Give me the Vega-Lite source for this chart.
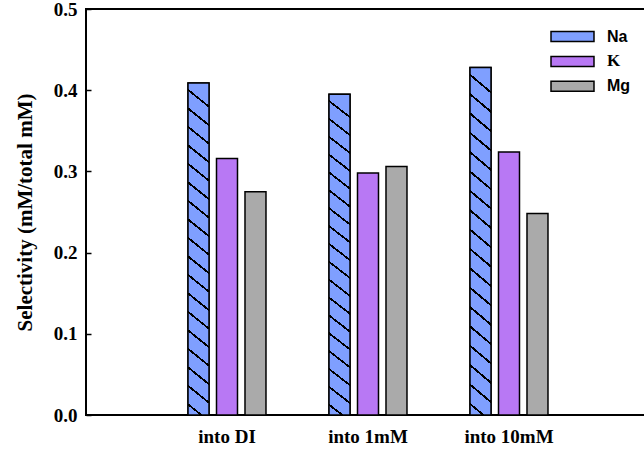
{
  "$schema": "https://vega.github.io/schema/vega-lite/v6.json",
  "autosize": {"type": "none"},
  "padding": {"left": 86, "top": 9, "right": 0, "bottom": 37},
  "width": 564,
  "height": 406,
  "background": "white",
  "config": {
    "view": {"stroke": "black", "strokeWidth": 2},
    "axis": {"grid": false, "domain": false, "labelFont": "Liberation Serif", "labelFontWeight": "bold", "labelColor": "black", "titleFont": "Liberation Serif", "titleFontWeight": "bold", "titleColor": "black"}
  },
  "data": {
    "values": [
      {"group": "into DI", "ion": "Na", "value": 0.409},
      {"group": "into DI", "ion": "K", "value": 0.316},
      {"group": "into DI", "ion": "Mg", "value": 0.275},
      {"group": "into 1mM", "ion": "Na", "value": 0.395},
      {"group": "into 1mM", "ion": "K", "value": 0.298},
      {"group": "into 1mM", "ion": "Mg", "value": 0.306},
      {"group": "into 10mM", "ion": "Na", "value": 0.428},
      {"group": "into 10mM", "ion": "K", "value": 0.324},
      {"group": "into 10mM", "ion": "Mg", "value": 0.248}
    ]
  },
  "encoding": {
    "x": {
      "field": "group", "type": "nominal",
      "sort": ["into DI", "into 1mM", "into 10mM"],
      "scale": {"paddingInner": 0.447, "paddingOuter": 0.7235},
      "axis": {"title": null, "labelAngle": 0, "ticks": false, "labelPadding": 12, "labelFontSize": 19, "labelBaseline": "top"}
    },
    "xOffset": {
      "field": "ion", "type": "nominal",
      "scale": {"domain": ["Na", "K", "Mg"], "paddingInner": 0.263, "paddingOuter": 0}
    },
    "y": {
      "field": "value", "type": "quantitative",
      "scale": {"domain": [0, 0.5], "nice": false},
      "axis": {"title": "Selectivity (mM/total mM)", "values": [0, 0.1, 0.2, 0.3, 0.4, 0.5], "format": ".1f", "tickSize": -5, "tickWidth": 1.5, "tickColor": "black", "labelPadding": 14, "labelFontSize": 19, "titleFontSize": 21, "titlePadding": 18}
    }
  },
  "layer": [
    {
      "mark": {"type": "bar", "stroke": "black", "strokeWidth": 1.5},
      "encoding": {
        "fill": {
          "field": "ion", "type": "nominal",
          "scale": {"domain": ["Na", "K", "Mg"], "range": ["#7f9fff", "#b878f4", "#aaaaaa"]},
          "legend": {
            "title": null,
            "orient": "none",
            "legendX": 475,
            "legendY": 16,
            "padding": 0,
            "symbolType": "M-2,-0.465H2V0.465H-2Z",
            "symbolSize": 462,
            "symbolStrokeColor": "black",
            "symbolStrokeWidth": 1.5,
            "symbolOpacity": 1,
            "labelOffset": 23,
            "labelFont": {"expr": "datum.value === 'K' ? 'Liberation Serif' : 'Liberation Sans'"},
            "labelFontWeight": "bold",
            "labelFontSize": {"expr": "datum.value === 'K' ? 17 : 16"},
            "labelColor": "black",
            "rowPadding": 4.9,
            "encoding": {
              "symbols": {
                "stroke": {"value": "black"},
                "strokeWidth": {"value": 1.5}
              }
            }
          }
        }
      }
    },
    {
      "transform": [{"filter": "datum.ion === 'Na'"}],
      "mark": {
        "type": "bar", "stroke": "black", "strokeWidth": 1.5, "opacity": 1,
        "fill": {"gradient": "linear", "x1": 0.0508, "y1": 0, "x2": 0, "y2": 1, "stops": [
          {"offset": 0, "color": "#7f9fff"},
          {"offset": 0.02, "color": "#7f9fff"}, {"offset": 0.02, "color": "#000000"}, {"offset": 0.027, "color": "#000000"}, {"offset": 0.027, "color": "#7f9fff"},
          {"offset": 0.0756, "color": "#7f9fff"}, {"offset": 0.0756, "color": "#000000"}, {"offset": 0.0826, "color": "#000000"}, {"offset": 0.0826, "color": "#7f9fff"},
          {"offset": 0.1311, "color": "#7f9fff"}, {"offset": 0.1311, "color": "#000000"}, {"offset": 0.1381, "color": "#000000"}, {"offset": 0.1381, "color": "#7f9fff"},
          {"offset": 0.1867, "color": "#7f9fff"}, {"offset": 0.1867, "color": "#000000"}, {"offset": 0.1937, "color": "#000000"}, {"offset": 0.1937, "color": "#7f9fff"},
          {"offset": 0.2422, "color": "#7f9fff"}, {"offset": 0.2422, "color": "#000000"}, {"offset": 0.2492, "color": "#000000"}, {"offset": 0.2492, "color": "#7f9fff"},
          {"offset": 0.2978, "color": "#7f9fff"}, {"offset": 0.2978, "color": "#000000"}, {"offset": 0.3048, "color": "#000000"}, {"offset": 0.3048, "color": "#7f9fff"},
          {"offset": 0.3533, "color": "#7f9fff"}, {"offset": 0.3533, "color": "#000000"}, {"offset": 0.3603, "color": "#000000"}, {"offset": 0.3603, "color": "#7f9fff"},
          {"offset": 0.4089, "color": "#7f9fff"}, {"offset": 0.4089, "color": "#000000"}, {"offset": 0.4159, "color": "#000000"}, {"offset": 0.4159, "color": "#7f9fff"},
          {"offset": 0.4644, "color": "#7f9fff"}, {"offset": 0.4644, "color": "#000000"}, {"offset": 0.4714, "color": "#000000"}, {"offset": 0.4714, "color": "#7f9fff"},
          {"offset": 0.52, "color": "#7f9fff"}, {"offset": 0.52, "color": "#000000"}, {"offset": 0.527, "color": "#000000"}, {"offset": 0.527, "color": "#7f9fff"},
          {"offset": 0.5756, "color": "#7f9fff"}, {"offset": 0.5756, "color": "#000000"}, {"offset": 0.5826, "color": "#000000"}, {"offset": 0.5826, "color": "#7f9fff"},
          {"offset": 0.6311, "color": "#7f9fff"}, {"offset": 0.6311, "color": "#000000"}, {"offset": 0.6381, "color": "#000000"}, {"offset": 0.6381, "color": "#7f9fff"},
          {"offset": 0.6867, "color": "#7f9fff"}, {"offset": 0.6867, "color": "#000000"}, {"offset": 0.6937, "color": "#000000"}, {"offset": 0.6937, "color": "#7f9fff"},
          {"offset": 0.7422, "color": "#7f9fff"}, {"offset": 0.7422, "color": "#000000"}, {"offset": 0.7492, "color": "#000000"}, {"offset": 0.7492, "color": "#7f9fff"},
          {"offset": 0.7978, "color": "#7f9fff"}, {"offset": 0.7978, "color": "#000000"}, {"offset": 0.8048, "color": "#000000"}, {"offset": 0.8048, "color": "#7f9fff"},
          {"offset": 0.8533, "color": "#7f9fff"}, {"offset": 0.8533, "color": "#000000"}, {"offset": 0.8603, "color": "#000000"}, {"offset": 0.8603, "color": "#7f9fff"},
          {"offset": 0.9089, "color": "#7f9fff"}, {"offset": 0.9089, "color": "#000000"}, {"offset": 0.9159, "color": "#000000"}, {"offset": 0.9159, "color": "#7f9fff"},
          {"offset": 0.9644, "color": "#7f9fff"}, {"offset": 0.9644, "color": "#000000"}, {"offset": 0.9714, "color": "#000000"}, {"offset": 0.9714, "color": "#7f9fff"},
          {"offset": 1, "color": "#7f9fff"}
        ]}
      }
    }
  ]
}
